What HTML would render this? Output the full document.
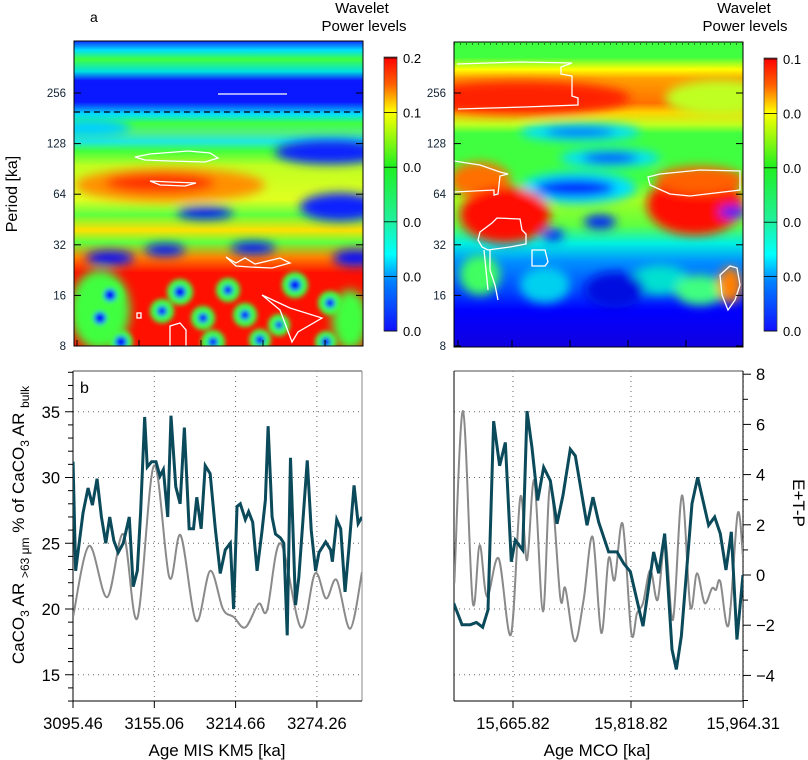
<!DOCTYPE html>
<html><head><meta charset="utf-8">
<style>
html,body{margin:0;padding:0;background:#fff;}
svg{display:block;font-family:"Liberation Sans",sans-serif;}
</style></head>
<body>
<svg id="fig" width="808" height="760" viewBox="0 0 808 760" xmlns="http://www.w3.org/2000/svg">
<defs>
  <linearGradient id="jet" x1="0" y1="0" x2="0" y2="1">
    <stop offset="0" stop-color="#ff0000"/><stop offset="0.1" stop-color="#ff6000"/>
    <stop offset="0.2" stop-color="#ffff00"/><stop offset="0.4" stop-color="#20f020"/>
    <stop offset="0.6" stop-color="#20f0a0"/><stop offset="0.72" stop-color="#00ffff"/>
    <stop offset="0.82" stop-color="#0080ff"/><stop offset="1" stop-color="#1010ff"/>
  </linearGradient>
  <linearGradient id="baseL" x1="0" y1="41" x2="0" y2="346" gradientUnits="userSpaceOnUse">
    <stop offset="0" stop-color="#1030ff"/><stop offset="0.03" stop-color="#00e0ff"/>
    <stop offset="0.06" stop-color="#40ff40"/><stop offset="0.1" stop-color="#00e0e0"/>
    <stop offset="0.13" stop-color="#0a18ff"/><stop offset="0.2" stop-color="#0a18ff"/>
    <stop offset="0.24" stop-color="#00e0ff"/><stop offset="0.27" stop-color="#40ff40"/>
    <stop offset="0.3" stop-color="#50f080"/><stop offset="0.33" stop-color="#20e8e0"/>
    <stop offset="0.36" stop-color="#40ff40"/><stop offset="0.41" stop-color="#c0ff20"/>
    <stop offset="0.52" stop-color="#e0ff20"/><stop offset="0.57" stop-color="#60ff40"/>
    <stop offset="0.62" stop-color="#ffe000"/><stop offset="0.66" stop-color="#60ff40"/>
    <stop offset="0.71" stop-color="#ff8000"/><stop offset="0.76" stop-color="#ff1000"/>
    <stop offset="1" stop-color="#ff1000"/>
  </linearGradient>
  <linearGradient id="baseR" x1="0" y1="42" x2="0" y2="347" gradientUnits="userSpaceOnUse">
    <stop offset="0" stop-color="#40ff40"/><stop offset="0.05" stop-color="#40ff40"/>
    <stop offset="0.09" stop-color="#ffff00"/><stop offset="0.12" stop-color="#ffa000"/>
    <stop offset="0.2" stop-color="#ff7000"/><stop offset="0.23" stop-color="#ffd000"/>
    <stop offset="0.27" stop-color="#c0ff20"/><stop offset="0.3" stop-color="#40ff40"/>
    <stop offset="0.45" stop-color="#40ff40"/><stop offset="0.52" stop-color="#a0ff20"/>
    <stop offset="0.6" stop-color="#60ff40"/><stop offset="0.66" stop-color="#00f0e0"/>
    <stop offset="0.72" stop-color="#0090ff"/><stop offset="0.82" stop-color="#0040ff"/>
    <stop offset="0.88" stop-color="#0000ff"/><stop offset="1" stop-color="#1000e0"/>
  </linearGradient>
  <filter id="bl" x="-50%" y="-50%" width="200%" height="200%"><feGaussianBlur stdDeviation="5"/></filter>
  <filter id="bs" x="-50%" y="-50%" width="200%" height="200%"><feGaussianBlur stdDeviation="2.5"/></filter>
  <clipPath id="clipL"><rect x="74" y="41" width="289" height="305"/></clipPath>
  <clipPath id="clipR"><rect x="454" y="42" width="289" height="305"/></clipPath>
  <clipPath id="clipBL"><rect x="73" y="371" width="289" height="330"/></clipPath>
  <clipPath id="clipBR"><rect x="454" y="371" width="289" height="330"/></clipPath>
</defs>

<!-- Panel a left wavelet -->
<g clip-path="url(#clipL)">
  <rect x="74" y="41" width="289" height="305" fill="url(#baseL)"/>
  <g filter="url(#bl)">
    <ellipse cx="330" cy="152" rx="55" ry="12" fill="#0a20ff"/>
    <ellipse cx="90" cy="128" rx="40" ry="9" fill="#00d0ff"/>
    <ellipse cx="170" cy="185" rx="95" ry="17" fill="#ff9000"/>
    <ellipse cx="160" cy="183" rx="55" ry="10" fill="#ff3000"/>
    <ellipse cx="340" cy="207" rx="40" ry="14" fill="#0a20ff"/>
    <ellipse cx="205" cy="213" rx="28" ry="6" fill="#0010ff"/>
    <ellipse cx="165" cy="250" rx="20" ry="6" fill="#0010ff"/>
    <ellipse cx="253" cy="248" rx="22" ry="6" fill="#0010ff"/>
    <ellipse cx="110" cy="258" rx="24" ry="7" fill="#0010ff"/>
    <ellipse cx="355" cy="258" rx="22" ry="8" fill="#0010ff"/>
    <ellipse cx="100" cy="310" rx="30" ry="40" fill="#40ff40"/>
    <ellipse cx="350" cy="320" rx="18" ry="30" fill="#40ff40"/>
  </g>
  <g filter="url(#bs)">
    <circle cx="110" cy="295" r="13" fill="#40ff40"/><circle cx="110" cy="295" r="6" fill="#0010ff"/>
    <circle cx="100" cy="318" r="12" fill="#40ff40"/><circle cx="100" cy="318" r="6" fill="#0010ff"/>
    <circle cx="121" cy="342" r="12" fill="#40ff40"/><circle cx="121" cy="342" r="6" fill="#0010ff"/>
    <circle cx="180" cy="292" r="13" fill="#40ff40"/><circle cx="180" cy="292" r="6" fill="#0010ff"/>
    <circle cx="162" cy="311" r="12" fill="#40ff40"/><circle cx="162" cy="311" r="5" fill="#0010ff"/>
    <circle cx="203" cy="318" r="12" fill="#40ff40"/><circle cx="203" cy="318" r="5" fill="#0010ff"/>
    <circle cx="228" cy="290" r="12" fill="#40ff40"/><circle cx="228" cy="290" r="5" fill="#0010ff"/>
    <circle cx="245" cy="315" r="12" fill="#40ff40"/><circle cx="245" cy="315" r="5" fill="#0010ff"/>
    <circle cx="213" cy="342" r="12" fill="#40ff40"/><circle cx="213" cy="342" r="5" fill="#0010ff"/>
    <circle cx="260" cy="340" r="11" fill="#40ff40"/><circle cx="260" cy="340" r="5" fill="#0010ff"/>
    <circle cx="295" cy="285" r="13" fill="#40ff40"/><circle cx="295" cy="285" r="6" fill="#0010ff"/>
    <circle cx="279" cy="325" r="11" fill="#40ff40"/><circle cx="279" cy="325" r="4" fill="#0010ff"/>
    <circle cx="330" cy="303" r="12" fill="#40ff40"/><circle cx="330" cy="303" r="5" fill="#0010ff"/>
    <circle cx="326" cy="342" r="11" fill="#40ff40"/><circle cx="326" cy="342" r="5" fill="#0010ff"/>
  </g>
  <line x1="74" y1="112" x2="363" y2="112" stroke="#000" stroke-width="1.2" stroke-dasharray="6,4"/>
  <g fill="none" stroke="#fff" stroke-width="1.3">
    <line x1="218" y1="94" x2="287" y2="94"/>
    <path d="M135,157 L150,154 L188,151 L210,153 L218,158 L205,162 L170,161 L145,160 Z"/>
    <path d="M150,181 L170,182 L196,183 L185,186 L160,185 Z"/>
    <path d="M226,257 L236,263 L245,258 L255,264 L280,258 L290,263 L272,268 L250,267 L236,266 Z"/>
    <path d="M262,295 L290,308 L322,318 L298,332 L292,342 L280,310 Z"/>
    <rect x="137" y="313" width="4" height="5"/>
    <path d="M170,346 L170,326 L180,323 L186,330 L186,346"/>
  </g>
</g>
<rect x="74" y="41" width="289" height="305" fill="none" stroke="#000" stroke-width="1"/>

<!-- Panel a right wavelet -->
<g clip-path="url(#clipR)">
  <rect x="454" y="42" width="289" height="305" fill="url(#baseR)"/>
  <g filter="url(#bl)">
    <ellipse cx="520" cy="98" rx="110" ry="17" fill="#ff2000"/>
    <ellipse cx="720" cy="98" rx="55" ry="18" fill="#c0ff20"/>
    <ellipse cx="580" cy="132" rx="60" ry="9" fill="#00e0ff"/>
    <ellipse cx="580" cy="132" rx="35" ry="4" fill="#0030ff"/>
    <ellipse cx="610" cy="158" rx="50" ry="9" fill="#00e0ff"/>
    <ellipse cx="610" cy="158" rx="28" ry="5" fill="#0010ff"/>
    <ellipse cx="578" cy="188" rx="58" ry="16" fill="#00e0ff"/>
    <ellipse cx="575" cy="188" rx="40" ry="9" fill="#0020ff"/>
    <ellipse cx="480" cy="180" rx="30" ry="18" fill="#ff7000"/>
    <ellipse cx="505" cy="215" rx="45" ry="28" fill="#ff1000"/>
    <ellipse cx="695" cy="205" rx="48" ry="30" fill="#ff1000"/>
    <ellipse cx="700" cy="180" rx="45" ry="14" fill="#ff6000"/>
    <ellipse cx="600" cy="222" rx="16" ry="7" fill="#0020ff"/>
    <ellipse cx="553" cy="235" rx="11" ry="6" fill="#0020ff"/>
    <ellipse cx="733" cy="212" rx="14" ry="6" fill="#0020ff"/>
    <ellipse cx="545" cy="285" rx="25" ry="18" fill="#00d0f0"/>
    <ellipse cx="660" cy="280" rx="30" ry="15" fill="#00e0d0"/>
    <ellipse cx="700" cy="290" rx="25" ry="15" fill="#40ff80"/>
    <ellipse cx="480" cy="275" rx="20" ry="20" fill="#40ff60"/>
    <ellipse cx="730" cy="285" rx="12" ry="18" fill="#ff8000"/>
    <ellipse cx="615" cy="290" rx="30" ry="18" fill="#0010e0"/>
  </g>
  <line x1="454" y1="44" x2="743" y2="44" stroke="#000" stroke-width="1" stroke-dasharray="1,5"/>
  <g fill="none" stroke="#fff" stroke-width="1.3">
    <path d="M457,64 L520,62 L572,63 L561,67 L561,74 L572,76 L572,96 L578,98 L578,105 L525,107 L458,109"/>
    <path d="M454,161 L480,165 L500,172 L508,174 L500,176 L498,194 L494,195 L494,190 L454,192"/>
    <path d="M478,240 L480,232 L492,223 L497,218 L520,219 L522,230 L526,234 L526,244 L510,247 L488,250 L482,247 Z"/>
    <path d="M490,250 L490,270 L495,285 L498,300 M484,250 L488,290"/>
    <path d="M532,250 L545,250 L548,262 L545,266 L532,266 Z"/>
    <path d="M648,177 L660,174 L700,170 L740,171 L740,190 L690,196 L670,194 L650,185 Z"/>
    <path d="M720,275 L730,266 L737,268 L740,285 L735,300 L728,310 L722,295 Z"/>
  </g>
</g>
<rect x="454" y="42" width="289" height="305" fill="none" stroke="#000" stroke-width="1"/>

<!-- wavelet labels -->
<text x="90" y="22" font-size="14">a</text>
<text x="362" y="13" font-size="15" text-anchor="middle">Wavelet</text>
<text x="364" y="31" font-size="15" text-anchor="middle">Power levels</text>
<text x="744" y="13" font-size="15" text-anchor="middle">Wavelet</text>
<text x="745" y="31" font-size="15" text-anchor="middle">Power levels</text>
<text transform="translate(17,194) rotate(-90)" font-size="16" text-anchor="middle">Period [ka]</text>

<rect x="384" y="57" width="13" height="274" fill="url(#jet)" stroke="#444" stroke-width="0.8"/>
<rect x="764" y="58" width="13" height="273" fill="url(#jet)" stroke="#444" stroke-width="0.8"/>

<g id="waveAxes"></g>
<g id="bottom"></g>
</svg>

<script>
// ---------- data: panel b left (MIS KM5) ----------
const kmTealAge = [3095.5,3097.4,3102.8,3106.5,3109.7,3113.1,3116.3,3119.5,3122.4,3125.4,3128.6,3132.3,3136.7,3139.6,3142.6,3145.0,3148.0,3149.9,3153.1,3156.3,3159.2,3161.7,3164.9,3167.3,3170.8,3174.0,3177.1,3180.6,3183.8,3186.2,3189.4,3192.4,3196.0,3199.7,3203.4,3207.1,3210.8,3213.2,3215.7,3218.1,3221.8,3224.2,3227.2,3230.4,3234.1,3236.5,3238.5,3241.4,3243.9,3247.6,3250.0,3252.5,3254.9,3258.6,3261.0,3267.2,3270.1,3273.3,3275.8,3280.7,3284.3,3285.6,3288.8,3291.7,3294.9,3297.8,3301.5,3304.5,3307.3];
const kmTealVal = [31.2,22.9,27.3,29.2,27.9,29.9,27.0,25.0,27.0,25.2,24.3,25.0,27.0,21.7,22.9,27.3,34.6,30.8,31.2,31.2,30.1,30.6,27.0,34.7,29.3,28.0,33.8,26.1,26.1,28.5,26.1,30.9,30.3,26.2,22.7,24.5,25.0,20.0,27.8,28.0,26.8,27.4,26.6,22.9,26.0,28.3,33.9,27.0,25.7,25.4,25.0,18.0,31.5,20.3,22.4,31.3,26.0,22.9,24.3,25.1,24.5,23.6,26.8,26.1,21.3,24.7,29.4,26.5,27.0];
const kmGrayAge = [3095.5,3107.2,3120.5,3132.3,3142.6,3154.8,3166.1,3174.4,3185.7,3196.0,3205.4,3213.2,3221.8,3231.6,3237.7,3247.6,3262.5,3272.9,3281.0,3288.8,3298.6,3307.3];
const kmGrayVal = [19.4,24.8,20.9,25.7,19.3,30.9,22.4,25.6,19.1,22.9,20.0,19.4,18.6,20.4,19.9,25.0,18.6,22.7,20.8,22.2,18.5,22.8];
const kmTicks = [3095.46,3155.06,3214.66,3274.26];
const kmTickLabels = ["3095.46","3155.06","3214.66","3274.26"];
const leftYTicks = [15,20,25,30,35];

// ---------- data: panel b right (MCO) ----------
const mcoTealAge = [15588.9,15599.7,15610.5,15618.3,15626.5,15633.4,15640.7,15648.5,15655.9,15663.6,15668.8,15678.4,15684.0,15690.4,15697.8,15705.6,15714.2,15722.9,15730.6,15740.1,15746.6,15761.8,15769.5,15776.9,15789.8,15800.7,15809.3,15818.0,15834.4,15848.2,15854.7,15862.5,15872.0,15877.6,15884.1,15897.9,15905.3,15919.5,15927.3,15934.6,15942.0,15948.9,15956.2,15964.0];
const mcoTealVal = [-1.12,-1.98,-1.98,-1.89,-2.08,-1.39,6.13,4.35,5.28,0.53,1.39,0.99,6.53,5.08,2.97,4.29,3.76,2.04,3.17,5.01,4.75,1.98,3.10,2.11,0.92,0.92,0.46,0.13,-2.04,0.92,0.07,1.65,-2.97,-3.76,-2.44,2.84,3.89,1.98,2.31,1.65,0.20,1.72,-2.57,0.0];
const mcoGrayAge = [15589.7,15601.0,15613.5,15622.6,15632.1,15647.2,15663.2,15675.3,15684.0,15693.5,15704.7,15714.2,15727.2,15733.7,15745.8,15757.4,15769.1,15780.3,15789.8,15797.6,15808.0,15819.2,15826.6,15834.4,15843.9,15853.4,15863.3,15873.3,15884.9,15895.7,15904.4,15914.3,15923.8,15929.0,15934.6,15945.4,15957.1,15964.0];
const mcoGrayVal = [-0.33,6.53,-1.06,1.19,-0.86,0.66,-2.37,3.10,0.59,3.76,-1.45,3.63,-0.92,-0.53,-2.64,-0.99,1.52,-2.31,0.66,-0.20,2.04,-2.31,-1.52,-1.12,0.20,-0.99,1.39,-1.78,3.17,-1.25,0.07,-1.12,-0.53,-0.59,-0.26,-1.98,2.44,0.73];
const mcoTicks = [15665.82,15818.82,15964.31];
const mcoTickLabels = ["15,665.82","15,818.82","15,964.31"];
const rightYTicks = [-4,-2,0,2,4,6,8];

// ---------- data: wavelet axes ----------
const periodTicks = [8,16,32,64,128,256];
const cbarLeftLabels = ["0.2","0.1","0.0","0.0","0.0","0.0"];
const cbarRightLabels = ["0.1","0.0","0.0","0.0","0.0","0.0"];

const NS = "http://www.w3.org/2000/svg";
function mk(tag, attrs, parent){ const e=document.createElementNS(NS,tag); for(const k in attrs) e.setAttribute(k,attrs[k]); parent.appendChild(e); return e; }

// scales
const xL = a => 73 + (a-3095.46)/59.6*81.3;
const yL = v => 609 - (v-20)*13.15;
const xR = a => 513 + (a-15665.82)*0.7712;
const yR = v => 575 - v*25.1;
const yP = p => 346 - Math.log2(p/8)*50.6;

const W = document.getElementById('waveAxes');
periodTicks.forEach(p=>{
  const y=yP(p);
  [[74,'l'],[454,'r']].forEach(([x0,s])=>{
    const t=mk('line',{x1:x0,y1:y,x2:x0+7,y2:y,stroke:'#000','stroke-width':1},W);
     
    const t2=mk('line',{x1:x0+289-7,y1:y,x2:x0+289,y2:y,stroke:'#000','stroke-width':1},W);
     
    const tx=mk('text',{x:x0-8,y:y+4,'font-size':11.5,'text-anchor':'end',fill:'#123'},W);
    tx.textContent=p;
     
  });
});
[74,136,198,260,322].forEach((x,i)=>{
  const t=mk('line',{x1:x+3,y1:346,x2:x+3,y2:340,stroke:'#000'},W);
   
});
[458,512,570,628,686].forEach(x=>{
  const t=mk('line',{x1:x,y1:347,x2:x,y2:340,stroke:'#000'},W);
   
});
cbarLeftLabels.forEach((lb,i)=>{
  const y=58+i*54.6;
  const l=mk('line',{x1:384,y1:y,x2:397,y2:y,stroke:'#000','stroke-width':0.8},W);
   
  const t=mk('text',{x:403,y:y+5,'font-size':13},W); t.textContent=lb;
   
});
cbarRightLabels.forEach((lb,i)=>{
  const y=59+i*54.4;
  const l=mk('line',{x1:764,y1:y,x2:777,y2:y,stroke:'#000','stroke-width':0.8},W);
   
  const t=mk('text',{x:783,y:y+5,'font-size':13},W); t.textContent=lb;
   
});

// ---------- bottom panels ----------
const B = document.getElementById('bottom');
function smooth(pts){
  let d=`M${pts[0][0]},${pts[0][1]}`;
  for(let i=0;i<pts.length-1;i++){
    const p0=pts[Math.max(0,i-1)],p1=pts[i],p2=pts[i+1],p3=pts[Math.min(pts.length-1,i+2)];
    const c1=[p1[0]+(p2[0]-p0[0])/6,p1[1]+(p2[1]-p0[1])/6];
    const c2=[p2[0]-(p3[0]-p1[0])/6,p2[1]-(p3[1]-p1[1])/6];
    d+=` C${c1[0]},${c1[1]} ${c2[0]},${c2[1]} ${p2[0]},${p2[1]}`;
  }
  return d;
}
function grid(x0,x1,xs){
  leftYTicks.forEach(v=>{
    const g=mk('line',{x1:x0,y1:yL(v),x2:x1,y2:yL(v),stroke:'#666','stroke-width':1,'stroke-dasharray':'1,4'},B);
     
  });
  xs.forEach(x=>{
    const g=mk('line',{x1:x,y1:371,x2:x,y2:701,stroke:'#666','stroke-width':1,'stroke-dasharray':'1,4'},B);
     
  });
}
grid(73,362,kmTicks.map(xL));
grid(454,743,mcoTicks.map(xR));

// left frame
let e;
e=mk('line',{x1:73,y1:371,x2:362,y2:371,stroke:'#888','stroke-width':1.5},B);  
e=mk('line',{x1:362,y1:371,x2:362,y2:701,stroke:'#888','stroke-width':1},B);  
e=mk('line',{x1:73,y1:371,x2:73,y2:701,stroke:'#000','stroke-width':1},B);  
e=mk('line',{x1:73,y1:701,x2:362,y2:701,stroke:'#000','stroke-width':1},B);  
// right frame
e=mk('line',{x1:454,y1:371,x2:743,y2:371,stroke:'#888','stroke-width':1.5},B);  
e=mk('line',{x1:454,y1:371,x2:454,y2:701,stroke:'#000','stroke-width':1},B);  
e=mk('line',{x1:454,y1:701,x2:743,y2:701,stroke:'#000','stroke-width':1},B);  
e=mk('line',{x1:743,y1:371,x2:743,y2:701,stroke:'#000','stroke-width':1},B);  

// left y ticks (minor every unit)
for(let v=13; v<=38; v++){
  const y=yL(v); const major=v%5===0;
  e=mk('line',{x1:73-(major?8:5),y1:y,x2:73,y2:y,stroke:'#000'},B);
   
}
leftYTicks.forEach(v=>{
  e=mk('text',{x:60,y:yL(v)+6,'font-size':16.5,'text-anchor':'end'},B); e.textContent=v;
   
});
// right y ticks
for(let v=-5; v<=8; v++){
  const y=yR(v); const major=v%2===0;
  e=mk('line',{x1:743,y1:y,x2:743+(major?8:5),y2:y,stroke:'#000'},B);
   
}
rightYTicks.forEach(v=>{
  e=mk('text',{x:756,y:yR(v)+6,'font-size':16.5},B); e.textContent=(v<0?'\u2212'+(-v):v);
   
});
// x ticks
kmTicks.forEach((a,i)=>{
  e=mk('line',{x1:xL(a),y1:701,x2:xL(a),y2:708,stroke:'#000'},B);
   
  e=mk('text',{x:xL(a),y:729,'font-size':16.5,'text-anchor':'middle'},B); e.textContent=kmTickLabels[i];
   
});
mcoTicks.forEach((a,i)=>{
  e=mk('line',{x1:xR(a),y1:701,x2:xR(a),y2:708,stroke:'#000'},B);
   
  e=mk('text',{x:xR(a),y:729,'font-size':16.5,'text-anchor':'middle'},B); e.textContent=mcoTickLabels[i];
   
});

// series
e=mk('path',{d:smooth(kmGrayAge.map((a,i)=>[xL(a),yL(kmGrayVal[i])])),fill:'none',stroke:'#8a8a8a','stroke-width':2,'clip-path':'url(#clipBL)'},B);
 
e=mk('polyline',{points:kmTealAge.map((a,i)=>xL(a)+','+yL(kmTealVal[i])).join(' '),fill:'none',stroke:'#0b4a5a','stroke-width':3,'stroke-linejoin':'miter','clip-path':'url(#clipBL)'},B);
 
e=mk('path',{d:smooth(mcoGrayAge.map((a,i)=>[xR(a),yR(mcoGrayVal[i])])),fill:'none',stroke:'#8a8a8a','stroke-width':2,'clip-path':'url(#clipBR)'},B);
 
e=mk('polyline',{points:mcoTealAge.map((a,i)=>xR(a)+','+yR(mcoTealVal[i])).join(' '),fill:'none',stroke:'#0b4a5a','stroke-width':3,'clip-path':'url(#clipBR)'},B);
 
</script>

<svg width="0" height="0" style="position:absolute"></svg>
<script>
(function(){
  const svg=document.getElementById('fig');
  const NS="http://www.w3.org/2000/svg";
  function t(x,y,size,txt,name,extra){const e=document.createElementNS(NS,'text');e.setAttribute('x',x);e.setAttribute('y',y);e.setAttribute('font-size',size);if(extra)for(const k in extra)e.setAttribute(k,extra[k]);e.textContent=txt;
    
    
    svg.appendChild(e);return e;}
  t(80,393,16,'b','panel-label-b');
  t(217,756,17,'Age MIS KM5 [ka]','left-x-axis-title',{'text-anchor':'middle'});
  t(597,756,17,'Age MCO [ka]','right-x-axis-title',{'text-anchor':'middle'});
  t(0,0,17,'E+T-P','right-y-axis-title',{'text-anchor':'middle',transform:'translate(793,503) rotate(90)'});
  const yt=document.createElementNS(NS,'text');
  yt.setAttribute('transform','translate(24,525) rotate(-90)');
  yt.setAttribute('text-anchor','middle');
  yt.setAttribute('font-size','17');
  yt.innerHTML='CaCO<tspan font-size="12" dy="5">3</tspan><tspan dy="-5"> AR </tspan><tspan font-size="12" dy="5">&gt;63 μm</tspan><tspan dy="-5"> % of CaCO</tspan><tspan font-size="12" dy="5">3</tspan><tspan dy="-5"> AR </tspan><tspan font-size="12" dy="5">bulk</tspan>';
  
  
  svg.appendChild(yt);
})();
</script>
</body></html>
